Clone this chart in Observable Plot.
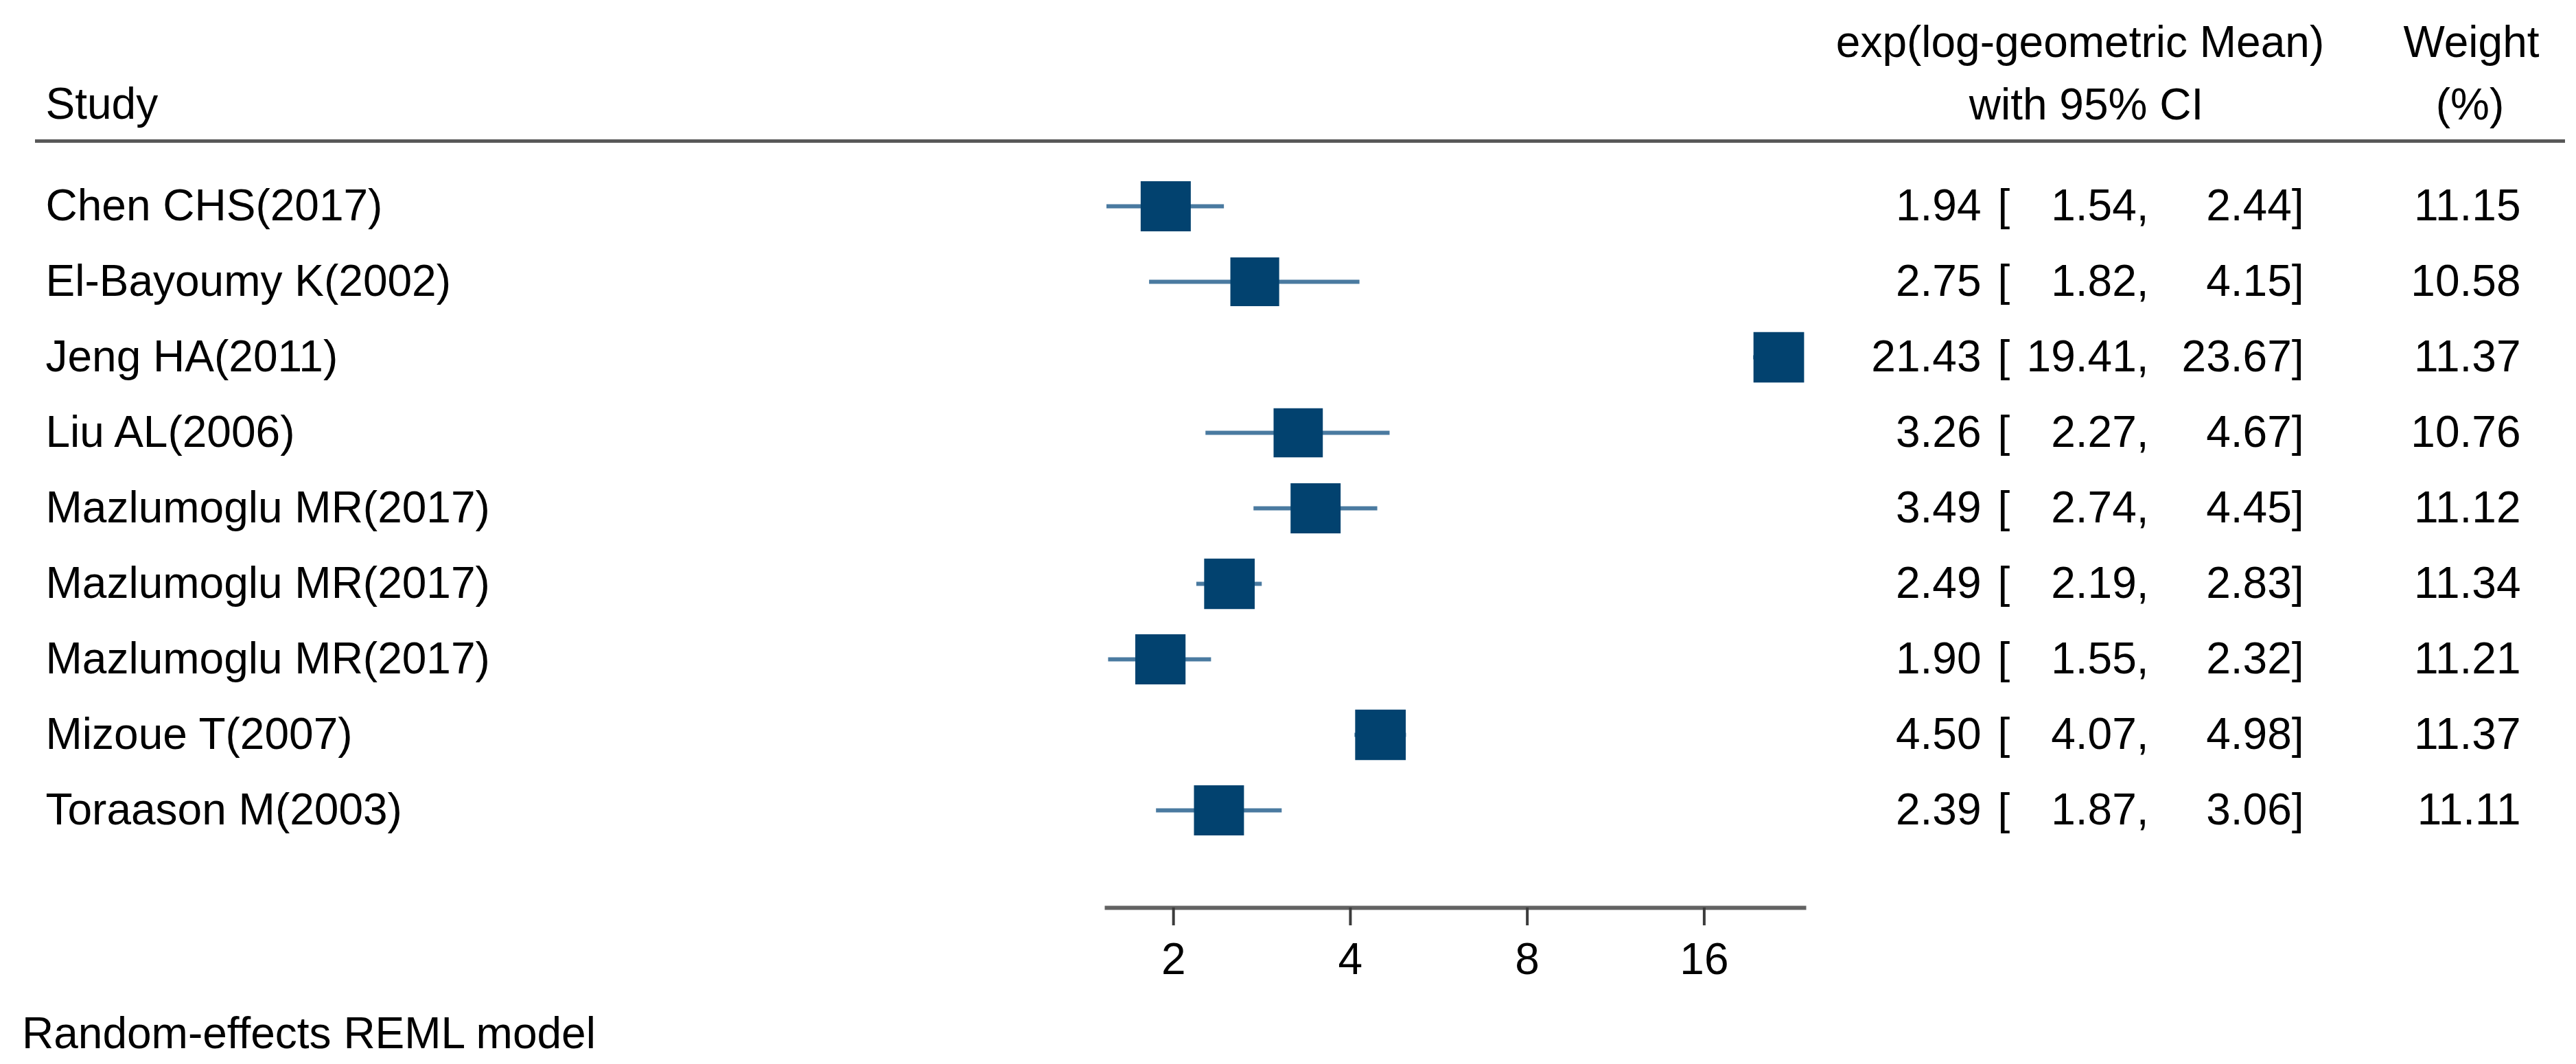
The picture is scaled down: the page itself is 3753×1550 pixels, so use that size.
<!DOCTYPE html>
<html>
<head>
<meta charset="utf-8">
<script src="https://cdn.jsdelivr.net/npm/d3@7"></script>
<script src="https://cdn.jsdelivr.net/npm/@observablehq/plot@0.6"></script>
<style>
  html, body { margin: 0; padding: 0; background: #fff; }
  #chart { position: relative; width: 3753px; height: 1550px; overflow: hidden; }
  #chart svg { display: block; }
  #caption { position: absolute; left: 32px; top: 1473px; font-family: "Liberation Sans", Arial, sans-serif; font-size: 64px; line-height: 64px; color: #000; white-space: nowrap; }
</style>
</head>
<body>
<div id="chart"></div>
<script>
// ---- data ----
const studies = [
  "Chen CHS(2017)",
  "El-Bayoumy K(2002)",
  "Jeng HA(2011)",
  "Liu AL(2006)",
  "Mazlumoglu MR(2017)",
  "Mazlumoglu MR(2017)",
  "Mazlumoglu MR(2017)",
  "Mizoue T(2007)",
  "Toraason M(2003)"
];
const estimates = [1.94, 2.75, 21.43, 3.26, 3.49, 2.49, 1.90, 4.50, 2.39];
const lower     = [1.54, 1.82, 19.41, 2.27, 2.74, 2.19, 1.55, 4.07, 1.87];
const upper     = [2.44, 4.15, 23.67, 4.67, 4.45, 2.83, 2.32, 4.98, 3.06];
const weights   = [11.15, 10.58, 11.37, 10.76, 11.12, 11.34, 11.21, 11.37, 11.11];
const xTicks = [2, 4, 8, 16];
const headerStudy = "Study";
const headerEstimate = ["exp(log-geometric Mean)", "with 95% CI"];
const headerWeight = ["Weight", "(%)"];
const captionText = "Random-effects REML model";

// ---- build table ----
const rows = studies.map((s, i) => ({
  i, study: s, est: estimates[i], lo: lower[i], hi: upper[i], w: weights[i]
}));
const f2 = d3.format(".2f");

const FONT = "'Liberation Sans', Arial, sans-serif";
const FS = 64;
const BOX = "#02426f";
const CI = "#4a7aa0";

const W = 3753, H = 1460;
const ML = 1612, MR = 1125, MT = 205, AXIS_Y = 1322;

const txt = { fontSize: FS, fill: "#000", lineAnchor: "middle" };

const plot = Plot.plot({
  width: W,
  height: H,
  marginLeft: ML,
  marginRight: MR,
  marginTop: MT,
  marginBottom: H - AXIS_Y,
  style: { fontFamily: FONT, background: "#fff", color: "#000", overflow: "visible" },
  x: { type: "log", domain: [d3.min(lower), d3.max(upper)], axis: null },
  y: { type: "point", domain: rows.map(d => d.i), padding: 0, insetTop: 93, insetBottom: 140, axis: null },
  r: { type: "sqrt", domain: [0, d3.max(weights)], range: [0, 41.6] },
  marks: [
    // header rule (full width) and axis line
    Plot.frame({ anchor: "top", stroke: "#585858", strokeWidth: 5, insetLeft: 53 - ML, insetRight: (W - MR) - 3734 }),
    Plot.frame({ anchor: "bottom", stroke: "#626262", strokeWidth: 6 }),
    Plot.axisX({ ticks: xTicks, tickFormat: d => String(d), tickSize: 26, tickPadding: 25, fontSize: FS, stroke: "#3c3c3c", strokeWidth: 4, fill: "#000", label: null }),
    // CI lines and boxes
    Plot.ruleY(rows, { y: "i", x1: "lo", x2: "hi", stroke: CI, strokeWidth: 6 }),
    Plot.dot(rows, { x: "est", y: "i", r: "w", symbol: "square", fill: BOX }),
    // study labels
    Plot.text(rows, { ...txt, y: "i", text: "study", frameAnchor: "left", textAnchor: "start", dx: 66 - ML }),
    // estimate column
    Plot.text(rows, { ...txt, y: "i", text: d => f2(d.est), frameAnchor: "right", textAnchor: "end", dx: 258 }),
    Plot.text(rows, { ...txt, y: "i", text: () => "[", frameAnchor: "right", textAnchor: "start", dx: 282 }),
    Plot.text(rows, { ...txt, y: "i", text: d => f2(d.lo) + ",", frameAnchor: "right", textAnchor: "end", dx: 502 }),
    Plot.text(rows, { ...txt, y: "i", text: d => f2(d.hi) + "]", frameAnchor: "right", textAnchor: "end", dx: 728 }),
    // weight column
    Plot.text(rows, { ...txt, y: "i", text: d => f2(d.w), frameAnchor: "right", textAnchor: "end", dx: 1044 }),
    // headers
    Plot.text([headerStudy], { ...txt, text: d => d, frameAnchor: "top-left", textAnchor: "start", dx: 66 - ML, dy: -52.5 }),
    Plot.text([headerEstimate[0]], { ...txt, text: d => d, frameAnchor: "top-right", textAnchor: "middle", dx: 402, dy: -142.5 }),
    Plot.text([headerEstimate[1]], { ...txt, text: d => d, frameAnchor: "top-right", textAnchor: "middle", dx: 411, dy: -51.5 }),
    Plot.text([headerWeight[0]], { ...txt, text: d => d, frameAnchor: "top-right", textAnchor: "middle", dx: 972, dy: -142.5 }),
    Plot.text([headerWeight[1]], { ...txt, text: d => d, frameAnchor: "top-right", textAnchor: "middle", dx: 970, dy: -51.5 })
  ]
});

const chart = document.getElementById("chart");
chart.appendChild(plot);
const cap = document.createElement("div");
cap.id = "caption";
cap.textContent = captionText;
chart.appendChild(cap);
</script>
</body>
</html>
